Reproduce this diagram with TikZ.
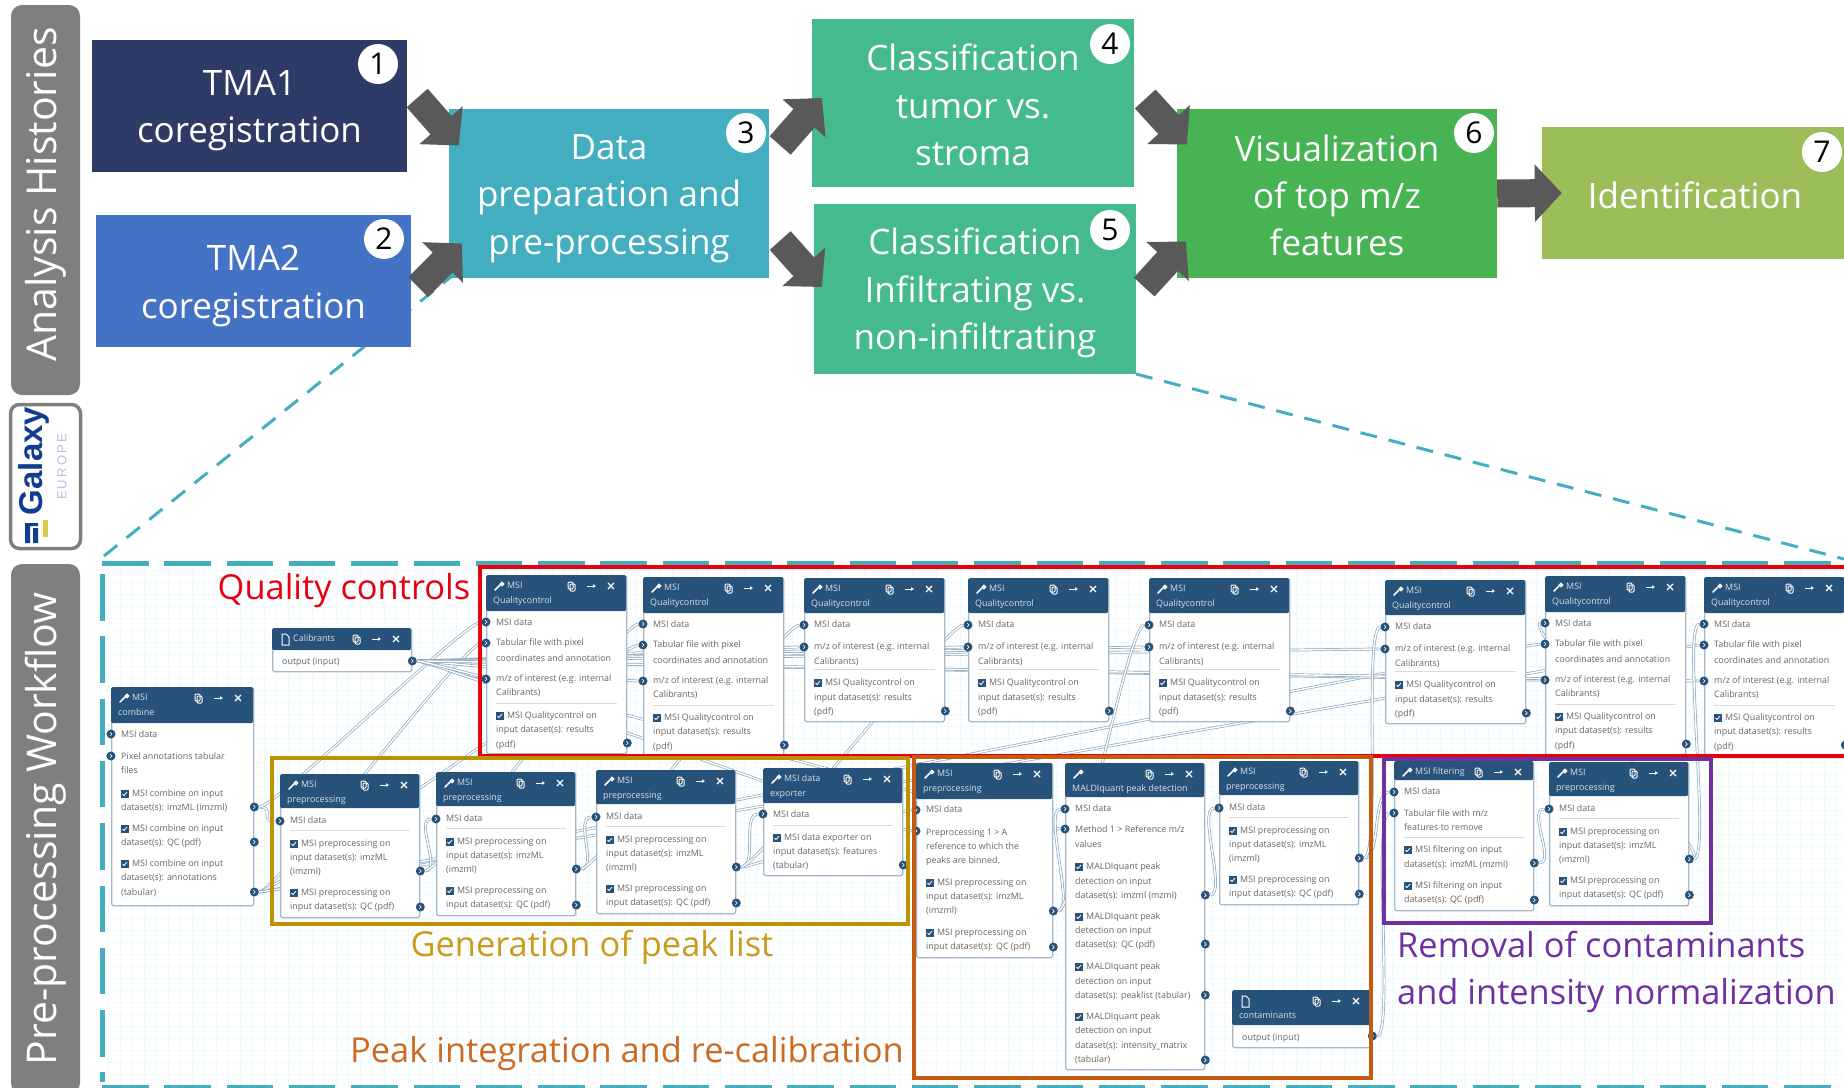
\documentclass[tikz,border=0pt]{standalone}
\usepackage{fontspec}
\setmainfont{Open Sans}
\newfontfamily\galfont{Liberation Sans}
\usetikzlibrary{arrows.meta,backgrounds}

\definecolor{wfblue}{HTML}{27527A}
\definecolor{wfedge}{HTML}{A3B9CB}
\definecolor{wfnoodle}{HTML}{8CA7BD}
\definecolor{wftext}{HTML}{666666}
\definecolor{teal1}{HTML}{43AEC0}
\definecolor{tma1Blue}{HTML}{2E3B66}
\definecolor{tma2Blue}{HTML}{4472C4}
\definecolor{classGreen}{HTML}{45BB8D}
\definecolor{visGreen}{HTML}{47B353}
\definecolor{idGreen}{HTML}{9BBE5B}
\definecolor{barGray}{HTML}{7F7F7F}
\definecolor{arrowGray}{HTML}{595959}
\definecolor{galaxyBlue}{HTML}{0F3D8F}
\definecolor{galaxyPale}{HTML}{B4C0E4}
\definecolor{galaxyYellow}{HTML}{DCCB50}
\definecolor{redBox}{HTML}{E8000F}
\definecolor{goldBox}{HTML}{BF9000}
\definecolor{goldText}{HTML}{C99A1C}
\definecolor{orangeBox}{HTML}{C55A11}
\definecolor{orangeText}{HTML}{CC6A22}
\definecolor{purpleBox}{HTML}{7030A0}

\tikzset{
  bigtext/.style={font=\fontsize{35}{47.4}\selectfont},
  stage/.style={rectangle,inner sep=0pt,text=white,align=center,bigtext},
  badge/.style={circle,fill=white,inner sep=0pt,minimum size=40pt,text=black,font=\fontsize{30}{30}\selectfont},
  bigarrow/.style={arrowGray,line width=28pt,-{Triangle[length=27pt,width=56pt]}},
  sidebar/.style={rectangle,rounded corners=11pt,fill=barGray,text=white,inner sep=0pt,rotate=90,minimum height=69pt,font=\fontsize{41}{48}\selectfont},
  outline/.style={line width=4pt},
  bluedash/.style={teal1,line width=5pt,dash pattern=on 46.5pt off 15.8pt},
  zoomdash/.style={teal1,line width=3pt,dash pattern=on 17pt off 12pt},
  wfbody/.style={rectangle,draw=wfedge,fill=white,line width=1.3pt,rounded corners=1.5pt,inner sep=0pt},
  wfhead/.style={rectangle,fill=wfblue,rounded corners=1.5pt,inner sep=0pt},
  wftitle/.style={anchor=mid west,inner sep=0pt,text=white!82!wfblue,font=\fontsize{8.9}{10}\selectfont},
  wfline/.style={anchor=mid west,inner sep=0pt,text=wftext,font=\fontsize{8.9}{10}\selectfont},
  wfport/.style={circle,fill=wfblue,inner sep=0pt,minimum size=9pt,
    path picture={\draw[white,line width=.6pt] ([xshift=-1pt,yshift=2pt]path picture bounding box.center) -- ([xshift=1pt]path picture bounding box.center) -- ([xshift=-1pt,yshift=-2pt]path picture bounding box.center);}},
  noodle/.style={draw=wfnoodle,line width=.7pt,double=white,double distance=1.4pt},
  note/.style={inner sep=0pt,font=\fontsize{34.4}{47}\selectfont}
}

% first and last line of the big boxes
\newcommand{\stA}{\rule{0pt}{35pt}}
\newcommand{\stB}{\rule[-5pt]{0pt}{5pt}}
% header icons
\newcommand{\wfwrench}{\draw[white,line width=1.7pt,line cap=round] (9,15) -- (14,10);
  \draw[white,line width=1.4pt] (16,9) circle (1.6pt);}
\newcommand{\wffile}{\draw[white,line width=1pt] (10,6) -- (14,6) -- (17,9) -- (17,17) -- (10,17) -- cycle;}
% name, x, y, width, height, header height, line 1, line 2, icon
\newcommand{\wftool}[9]{
  \node[wfbody,anchor=north west,minimum width=#4pt,minimum height=#5pt] (#1) at (#2,#3) {};
  \node[wfhead,anchor=north west,minimum width=#4pt,minimum height=#6pt] (#1h) at (#2,#3) {};
  \begin{scope}[shift={(#2,#3)}]
    #9
    \node[wftitle] (#1t) at (21,11) {#7};
    \node[wftitle] (#1u) at (7,26) {#8};
  \end{scope}
  \begin{scope}[shift={(#2+#4,#3)}]
    \draw[white,line width=1pt,rounded corners=1pt] (-58,7) rectangle (-53,14);
    \draw[white,line width=1pt,rounded corners=1pt] (-56,9) rectangle (-51,16);
    \draw[white,line width=1pt,-{Latex[length=3pt,width=4pt]}] (-39,11) -- (-30,11);
    \draw[white,line width=1.2pt] (-18,8) -- (-12,14) (-18,14) -- (-12,8);
  \end{scope}
}
\newcommand{\wfrow}[3]{\node[wfline] at ([xshift=10pt]#1.west |- 0,#2) {#3};}
\newcommand{\wfcheck}[3]{
  \draw[fill=wfblue,draw=wfblue] ([xshift=10pt,yshift=3.5pt]#1.west |- 0,#2) rectangle ([xshift=17pt,yshift=-3.5pt]#1.west |- 0,#2);
  \draw[white,line width=.8pt] ([xshift=11.5pt]#1.west |- 0,#2) -- ([xshift=13pt,yshift=-1.5pt]#1.west |- 0,#2) -- ([xshift=16pt,yshift=2pt]#1.west |- 0,#2);
  \node[wfline] at ([xshift=21pt]#1.west |- 0,#2) {#3};}
\newcommand{\wfdiv}[2]{\draw[wfedge!50,line width=.7pt] ([xshift=10pt]#1.west |- 0,#2) -- ([xshift=-10pt]#1.east |- 0,#2);}
\newcommand{\wfin}[3]{\node[wfport] (#1-i#2) at (#1.west |- 0,#3) {};}
\newcommand{\wfout}[3]{\node[wfport] (#1-o#2) at (#1.east |- 0,#3) {};}

% quality control with three inputs: name, x, top, height
\newcommand{\qcfull}[4]{
  \wftool{#1}{#2}{#3}{140}{#4}{36}{MSI}{Qualitycontrol}{\wfwrench}
  \wfrow{#1}{#3+48}{MSI data}
  \wfrow{#1}{#3+68}{Tabular file with pixel}
  \wfrow{#1}{#3+84}{coordinates and annotation}
  \wfrow{#1}{#3+104}{m/z of interest (e.g. internal}
  \wfrow{#1}{#3+118}{Calibrants)}
  \wfdiv{#1}{#3+128}
  \wfcheck{#1}{#3+141}{MSI Qualitycontrol on}
  \wfrow{#1}{#3+155}{input dataset(s): results}
  \wfrow{#1}{#3+170}{(pdf)}
  \wfin{#1}{1}{#3+47} \wfin{#1}{2}{#3+68} \wfin{#1}{3}{#3+104}
  \wfout{#1}{1}{#3+168}
}
% quality control with two inputs: name, x, top
\newcommand{\qcshort}[3]{
  \wftool{#1}{#2}{#3}{140}{143}{35}{MSI}{Qualitycontrol}{\wfwrench}
  \wfrow{#1}{#3+47}{MSI data}
  \wfrow{#1}{#3+69}{m/z of interest (e.g. internal}
  \wfrow{#1}{#3+84}{Calibrants)}
  \wfdiv{#1}{#3+91}
  \wfcheck{#1}{#3+105}{MSI Qualitycontrol on}
  \wfrow{#1}{#3+120}{input dataset(s): results}
  \wfrow{#1}{#3+134}{(pdf)}
  \wfin{#1}{1}{#3+47} \wfin{#1}{2}{#3+69}
  \wfout{#1}{1}{#3+133}
}
% preprocessing tool: name, x, top
\newcommand{\wfprep}[3]{
  \wftool{#1}{#2}{#3}{139}{143}{34}{MSI}{preprocessing}{\wfwrench}
  \wfrow{#1}{#3+47}{MSI data}
  \wfdiv{#1}{#3+56}
  \wfcheck{#1}{#3+70}{MSI preprocessing on}
  \wfrow{#1}{#3+84}{input dataset(s): imzML}
  \wfrow{#1}{#3+98}{(imzml)}
  \wfcheck{#1}{#3+119}{MSI preprocessing on}
  \wfrow{#1}{#3+133}{input dataset(s): QC (pdf)}
  \wfin{#1}{1}{#3+47}
  \wfout{#1}{1}{#3+97} \wfout{#1}{2}{#3+133}
}

\begin{document}
\begin{tikzpicture}[x=1pt,y=-1pt]
  \useasboundingbox (0,0) rectangle (1844,1087);

  \draw[zoomdash] (104,556) -- (452,276);
  \draw[zoomdash] (1136,374) -- (1844,559);
  \draw[bluedash] (102,563) -- (1850,563);
  \draw[bluedash] (102,574) -- (102,1082);
  \draw[bluedash] (102,1087) -- (1850,1087);

  \node[sidebar,minimum width=390pt] (histories) at (45.5,200) {\hspace*{11pt}Analysis Histories};
  \node[sidebar,minimum width=530pt] (workflow) at (45.5,829) {Pre-processing Workflow};
  \node[rectangle,rounded corners=9pt,draw=barGray,line width=3.5pt,fill=white,minimum width=70pt,minimum height=144pt] (galaxy) at (45.5,476.5) {};
  \node[rotate=90,inner sep=0pt,text=galaxyBlue,font=\galfont\bfseries\fontsize{33}{33}\selectfont] (galaxyname) at (34,461) {Galaxy};
  \node[rotate=90,inner sep=0pt,text=galaxyPale,font=\galfont\fontsize{13}{13}\selectfont] (galaxyeu) at (62,467) {E\,U\,R\,O\,P\,E};
  \fill[galaxyBlue] (25,523) rectangle (30,543) (33,528) rectangle (38,543) (30,523) rectangle (38,526);
  \fill[galaxyYellow] (43,520) rectangle (48,537);

  % top row
  \node[stage,fill=tma1Blue,minimum width=315pt,minimum height=132pt] (tma1) at (249.5,106) {\stA TMA1\\coregistration\stB};
  \node[stage,fill=tma2Blue,minimum width=315pt,minimum height=132pt] (tma2) at (253.5,281) {\stA TMA2\\coregistration\stB};
  \node[stage,fill=teal1,minimum width=320pt,minimum height=169pt] (prep) at (609,193.5) {\stA Data\\preparation and\\pre-processing\stB};
  \node[stage,fill=classGreen,minimum width=322pt,minimum height=168pt] (tumor) at (973,103) {\stA Classification\\tumor vs.\\stroma\stB};
  \node[stage,fill=classGreen,minimum width=322pt,minimum height=170pt] (infil) at (975,289) {\stA Classification\\Infiltrating vs.\\non-infiltrating\stB};
  \node[stage,fill=visGreen,minimum width=320pt,minimum height=169pt] (visual) at (1337,193.5) {\stA Visualization\\of top m/z\\features\stB};
  \node[stage,fill=idGreen,minimum width=306pt,minimum height=132pt] (ident) at (1695,193) {\stA Identification\stB};
  \foreach \id/\bx/\by in {1/378/64,2/384/239,3/746/133,4/1110/44,5/1110/230,6/1474/133,7/1822/152}
    \node[badge] (badge\id) at (\bx,\by) {\id};

  \draw[bigarrow] ([xshift=10pt,yshift=8pt]tma1.east) -- ([xshift=10pt,yshift=48pt]prep.west);
  \draw[bigarrow] ([xshift=7pt,yshift=-6pt]tma2.east) -- ([xshift=13pt,yshift=-50pt]prep.west);
  \draw[bigarrow] ([xshift=11pt,yshift=48pt]prep.east) -- ([xshift=10pt,yshift=5pt]tumor.west);
  \draw[bigarrow] ([xshift=11pt,yshift=-47pt]prep.east) -- ([xshift=8pt,yshift=2pt]infil.west);
  \draw[bigarrow] ([xshift=11pt,yshift=4pt]tumor.east) -- ([xshift=10pt,yshift=49pt]visual.west);
  \draw[bigarrow] ([xshift=8pt,yshift=2pt]infil.east) -- ([xshift=9pt,yshift=-48pt]visual.west);
  \draw[bigarrow] (visual.east) -- ([xshift=20pt]ident.west);

  % workflow tools
  \qcfull{qca}{486}{575}{178}
  \qcfull{qcb}{643}{577}{178}
  \qcshort{qcc}{804}{578}
  \qcshort{qcd}{968}{578}
  \qcshort{qce}{1149}{578}
  \qcshort{qcf}{1385}{580}
  \qcfull{qcg}{1545}{576}{180}
  \qcfull{qch}{1704}{577}{180}

  \wftool{combine}{111}{687}{142}{218}{36}{MSI}{combine}{\wfwrench}
  \wfrow{combine}{735}{MSI data}
  \wfrow{combine}{757}{Pixel annotations tabular}
  \wfrow{combine}{771}{files}
  \wfcheck{combine}{794}{MSI combine on input}
  \wfrow{combine}{808}{dataset(s): imzML (imzml)}
  \wfcheck{combine}{829}{MSI combine on input}
  \wfrow{combine}{843}{dataset(s): QC (pdf)}
  \wfcheck{combine}{864}{MSI combine on input}
  \wfrow{combine}{878}{dataset(s): annotations}
  \wfrow{combine}{893}{(tabular)}
  \wfin{combine}{1}{734} \wfin{combine}{2}{756}
  \wfout{combine}{1}{807} \wfout{combine}{2}{842} \wfout{combine}{3}{892}

  \wftool{calib}{272}{628}{139}{43}{22}{Calibrants}{}{\wffile}
  \wfrow{calib}{662}{output (input)}
  \wfout{calib}{1}{661}

  \wfprep{prepa}{280}{774}
  \wfprep{prepb}{436}{772}
  \wfprep{prepc}{596}{770}

  \wftool{exporter}{763}{768}{139}{107}{35}{MSI data}{exporter}{\wfwrench}
  \wfrow{exporter}{815}{MSI data}
  \wfdiv{exporter}{825}
  \wfcheck{exporter}{838}{MSI data exporter on}
  \wfrow{exporter}{852}{input dataset(s): features}
  \wfrow{exporter}{866}{(tabular)}
  \wfin{exporter}{1}{814}
  \wfout{exporter}{1}{865}

  \wftool{prepd}{916}{763}{136}{194}{36}{MSI}{preprocessing}{\wfwrench}
  \wfrow{prepd}{810}{MSI data}
  \wfrow{prepd}{833}{Preprocessing 1 > A}
  \wfrow{prepd}{847}{reference to which the}
  \wfrow{prepd}{861}{peaks are binned.}
  \wfcheck{prepd}{883}{MSI preprocessing on}
  \wfrow{prepd}{897}{input dataset(s): imzML}
  \wfrow{prepd}{911}{(imzml)}
  \wfcheck{prepd}{933}{MSI preprocessing on}
  \wfrow{prepd}{947}{input dataset(s): QC (pdf)}
  \wfin{prepd}{1}{810} \wfin{prepd}{2}{831}
  \wfout{prepd}{1}{911} \wfout{prepd}{2}{947}

  \wftool{maldi}{1065}{763}{139}{306}{34}{}{MALDIquant peak detection}{\wfwrench}
  \wfrow{maldi}{809}{MSI data}
  \wfrow{maldi}{830}{Method 1 > Reference m/z}
  \wfrow{maldi}{845}{values}
  \wfcheck{maldi}{867}{MALDIquant peak}
  \wfrow{maldi}{882}{detection on input}
  \wfrow{maldi}{896}{dataset(s): imzml (mzml)}
  \wfcheck{maldi}{917}{MALDIquant peak}
  \wfrow{maldi}{931}{detection on input}
  \wfrow{maldi}{945}{dataset(s): QC (pdf)}
  \wfcheck{maldi}{967}{MALDIquant peak}
  \wfrow{maldi}{982}{detection on input}
  \wfrow{maldi}{996}{dataset(s): peaklist (tabular)}
  \wfcheck{maldi}{1017}{MALDIquant peak}
  \wfrow{maldi}{1031}{detection on input}
  \wfrow{maldi}{1046}{dataset(s): intensity\_matrix}
  \wfrow{maldi}{1060}{(tabular)}
  \wfin{maldi}{1}{809} \wfin{maldi}{2}{829}
  \wfout{maldi}{1}{895} \wfout{maldi}{2}{944} \wfout{maldi}{3}{995} \wfout{maldi}{4}{1060}

  \wfprep{prepe}{1219}{761}
  \wfprep{prepf}{1549}{762}

  \wftool{contam}{1232}{990}{139}{57}{35}{}{contaminants}{\wffile}
  \wfrow{contam}{1038}{output (input)}
  \wfout{contam}{1}{1036}

  \wftool{filter}{1394}{761}{139}{149}{19}{MSI filtering}{}{\wfwrench}
  \wfrow{filter}{792}{MSI data}
  \wfrow{filter}{814}{Tabular file with m/z}
  \wfrow{filter}{828}{features to remove}
  \wfdiv{filter}{837}
  \wfcheck{filter}{850}{MSI filtering on input}
  \wfrow{filter}{865}{dataset(s): imzML (mzml)}
  \wfcheck{filter}{886}{MSI filtering on input}
  \wfrow{filter}{900}{dataset(s): QC (pdf)}
  \wfin{filter}{1}{792} \wfin{filter}{2}{813}
  \wfout{filter}{1}{863} \wfout{filter}{2}{900}

  \begin{scope}[on background layer]
    \foreach \gx in {108,120,...,1844}
      \draw[blue!20!cyan!7!white,line width=.4pt] (\gx,567) -- (\gx,1085);
    \foreach \gy in {570,582,...,1085}
      \draw[blue!20!cyan!7!white,line width=.4pt] (106,\gy) -- (1844,\gy);
    \foreach \wa/\wb in {combine-o1/prepa-i1,combine-o1/qca-i1,combine-o3/qca-i2,combine-o3/qcb-i2,combine-o3/qcg-i2,combine-o3/qch-i2,
        calib-o1/qca-i3,calib-o1/qcb-i3,calib-o1/qcc-i2,calib-o1/qcd-i2,calib-o1/qce-i2,calib-o1/qcf-i2,calib-o1/qcg-i3,calib-o1/qch-i3,calib-o1/prepd-i2,calib-o1/maldi-i2,
        prepa-o1/prepb-i1,prepa-o1/qcb-i1,prepb-o1/prepc-i1,prepb-o1/qcc-i1,prepc-o1/exporter-i1,prepc-o1/prepd-i1,prepc-o1/qcd-i1,
        prepd-o1/maldi-i1,prepd-o1/qce-i1,maldi-o1/prepe-i1,prepe-o1/filter-i1,prepe-o1/qcf-i1,contam-o1/filter-i2,filter-o1/prepf-i1,prepf-o1/qcg-i1,prepf-o1/qch-i1}
      \draw[noodle] (\wa) .. controls +(22,0) and +(-22,0) .. (\wb);
  \end{scope}

  % groups
  \draw[outline,redBox] (480,567) rectangle (1850,756);
  \draw[outline,goldBox] (272,758) rectangle (908,924);
  \draw[outline,orangeBox] (914,757) rectangle (1371,1078);
  \draw[outline,purpleBox] (1384,759) rectangle (1711,923);
  \node[note,text=redBox] (qclabel) at (344,591) {Quality controls};
  \node[note,text=goldText] (peaklabel) at (592,947) {Generation of peak list};
  \node[note,text=orangeText] (calilabel) at (627,1054) {Peak integration and re-calibration};
  \node[note,text=purpleBox,align=left,anchor=north west] (normlabel) at (1397,931) {Removal of contaminants\\and intensity normalization};
\end{tikzpicture}
\end{document}
